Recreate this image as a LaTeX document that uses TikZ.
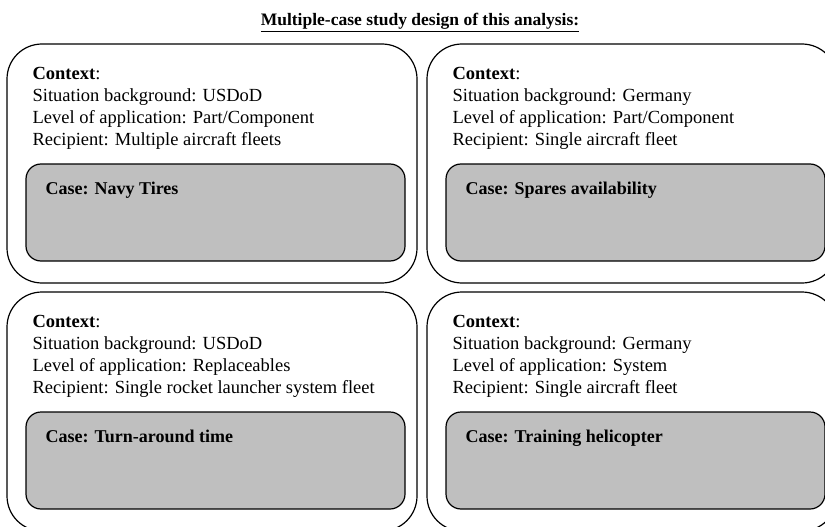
\documentclass[tikz,border=0pt]{standalone}
\usepackage{fontspec}
\setmainfont{Liberation Serif}
\definecolor{casegray}{RGB}{191,191,191}
\tikzset{
every picture/.style={
line width=1.2pt
}}
\tikzset{
heading/.style={anchor=base, inner sep=0pt, font=\fontsize{17.5}{20}\selectfont\bfseries},
contextbox/.style={draw, rounded corners=35pt, anchor=north west, minimum width=410pt, minimum height=239pt, inner sep=0pt, outer sep=0pt},
casebox/.style={draw, fill=casegray, rounded corners=15pt, anchor=north west, minimum width=379pt, minimum height=97pt, inner sep=0pt, outer sep=0pt},
info/.style={anchor=north west, inner sep=0pt, align=left, font=\fontsize{18.5}{22}\selectfont},
caselabel/.style={anchor=north west, inner sep=0pt, font=\fontsize{18}{22}\selectfont\bfseries}
}

\begin{document}
\begin{tikzpicture}[x=1pt,y=-1pt]
\useasboundingbox (0,0) rectangle (825,527);
\clip (0,0) rectangle (825,527);
\node[heading] (title) at (420,26) {\underline{Multiple-case study design of this analysis:}};

\foreach \x/\y/\bg/\lvl/\rec/\cs [count=\i] in {
  7/44/USDoD/{Part/Component}/{Multiple aircraft fleets}/{Navy Tires},
  427/44/Germany/{Part/Component}/{Single aircraft fleet}/{Spares availability},
  7/292/USDoD/Replaceables/{Single rocket launcher system fleet}/{Turn-around  time},
  427/292/Germany/System/{Single aircraft fleet}/{Training  helicopter}}{
  \node[contextbox] (ctx\i) at (\x,\y) {};
  \node[info] (info\i) at ([xshift=25pt,yshift=-23pt]ctx\i.north west)
    {\textbf{Context}:\\Situation background: \bg\\Level of application: \lvl\\Recipient: \rec};
  \node[casebox] (case\i) at ([xshift=19pt,yshift=-120pt]ctx\i.north west) {};
  \node[caselabel] (label\i) at ([xshift=19pt,yshift=-17pt]case\i.north west) {Case: \cs};
}
\end{tikzpicture}
\end{document}
